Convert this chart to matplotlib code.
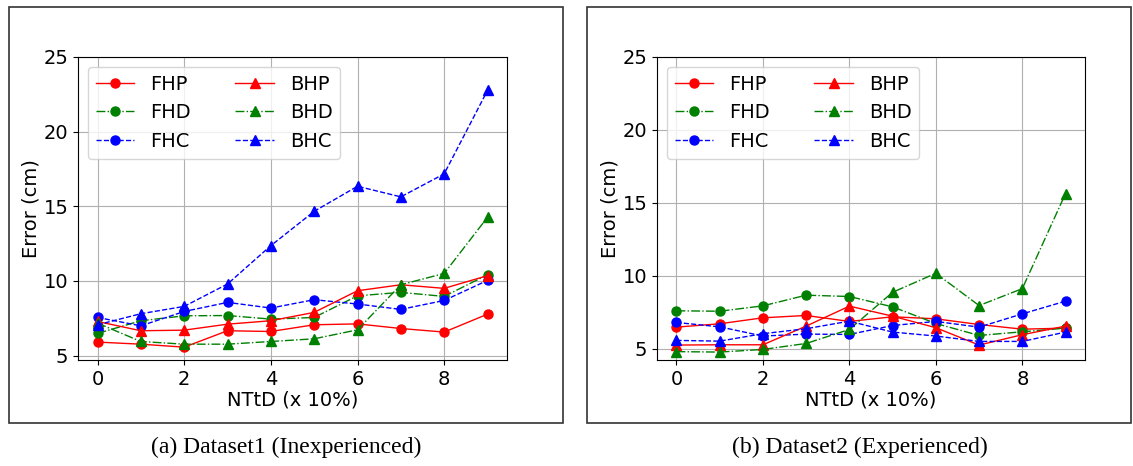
import matplotlib.pyplot as plt
from matplotlib.patches import Rectangle

ntd = list(range(10))

# (a) Dataset1 (Inexperienced)
d1_fhp = [5.9, 5.76, 5.56, 6.66, 6.61, 7.06, 7.12, 6.81, 6.57, 7.77]
d1_bhp = [7.28, 6.66, 6.7, 7.1, 7.33, 7.89, 9.34, 9.74, 9.5, 10.35]
d1_fhd = [6.48, 7.33, 7.66, 7.68, 7.44, 7.55, 9.0, 9.23, 8.96, 10.41]
d1_bhd = [7.17, 5.94, 5.76, 5.76, 5.94, 6.12, 6.72, 9.74, 10.5, 14.26]
d1_fhc = [7.55, 6.99, 7.95, 8.56, 8.18, 8.74, 8.45, 8.09, 8.69, 10.03]
d1_bhc = [7.06, 7.8, 8.29, 9.79, 12.36, 14.66, 16.34, 15.63, 17.17, 22.76]

# (b) Dataset2 (Experienced)
d2_fhp = [6.48, 6.71, 7.12, 7.28, 6.87, 7.19, 7.05, 6.66, 6.34, 6.41]
d2_bhp = [5.25, 5.27, 5.27, 6.55, 7.92, 7.23, 6.44, 5.25, 5.96, 6.55]
d2_fhd = [7.6, 7.57, 7.94, 8.67, 8.58, 7.87, 6.73, 5.91, 6.16, 6.41]
d2_bhd = [4.8, 4.77, 4.95, 5.36, 6.32, 8.87, 10.17, 7.96, 9.12, 15.64]
d2_fhc = [6.8, 6.5, 5.87, 6.0, 5.98, 6.59, 6.87, 6.48, 7.39, 8.26]
d2_bhc = [5.57, 5.52, 6.03, 6.37, 6.89, 6.14, 5.87, 5.5, 5.5, 6.14]

captions = ["(a) Dataset1 (Inexperienced)", "(b) Dataset2 (Experienced)"]


def draw(ax, fhp, bhp, fhd, bhd, fhc, bhc):
    ax.plot(ntd, fhp, color='red', linestyle='-', marker='o', ms=6.5, lw=1, label='FHP')
    ax.plot(ntd, fhd, color='green', linestyle='-.', marker='o', ms=6.5, lw=1, label='FHD')
    ax.plot(ntd, fhc, color='blue', linestyle='--', marker='o', ms=6.5, lw=1, label='FHC')
    ax.plot(ntd, bhp, color='red', linestyle='-', marker='^', ms=6.5, lw=1, label='BHP')
    ax.plot(ntd, bhd, color='green', linestyle='-.', marker='^', ms=6.5, lw=1, label='BHD')
    ax.plot(ntd, bhc, color='blue', linestyle='--', marker='^', ms=6.5, lw=1, label='BHC')
    ax.set_ylim(top=25)
    ax.set_yticks([5, 10, 15, 20, 25])
    ax.set_xticks([0, 2, 4, 6, 8])
    ax.grid(True)
    ax.tick_params(labelsize=14)
    ax.set_xlabel('NTtD (x 10%)', fontsize=14, labelpad=1)
    ax.set_ylabel('Error (cm)', fontsize=14, labelpad=2)
    ax.legend(ncol=2, loc='upper left', fontsize=14, columnspacing=2.3,
              handletextpad=0.8, labelspacing=0.5)


fig = plt.figure(figsize=(11.33, 4.66), dpi=100)
W, H = 1133, 466

ax1 = fig.add_axes([78 / W, 1 - 360 / H, 429 / W, 303 / H])
ax2 = fig.add_axes([657 / W, 1 - 360 / H, 428 / W, 303 / H])
draw(ax1, d1_fhp, d1_bhp, d1_fhd, d1_bhd, d1_fhc, d1_bhc)
draw(ax2, d2_fhp, d2_bhp, d2_fhd, d2_bhd, d2_fhc, d2_bhc)

# frames around each sub-figure
for x0, x1 in [(9, 563), (587, 1131)]:
    fig.patches.append(Rectangle((x0 / W, 1 - 423 / H), (x1 - x0) / W, (423 - 7) / H,
                                 transform=fig.transFigure, fill=False,
                                 edgecolor='#333333', lw=1.2))

fig.text(286 / W, 1 - 447 / H, captions[0], ha='center', va='center',
         fontsize=17, family='Liberation Serif')
fig.text(860 / W, 1 - 447 / H, captions[1], ha='center', va='center',
         fontsize=17, family='Liberation Serif')

fig.savefig('out.png', dpi=100)
